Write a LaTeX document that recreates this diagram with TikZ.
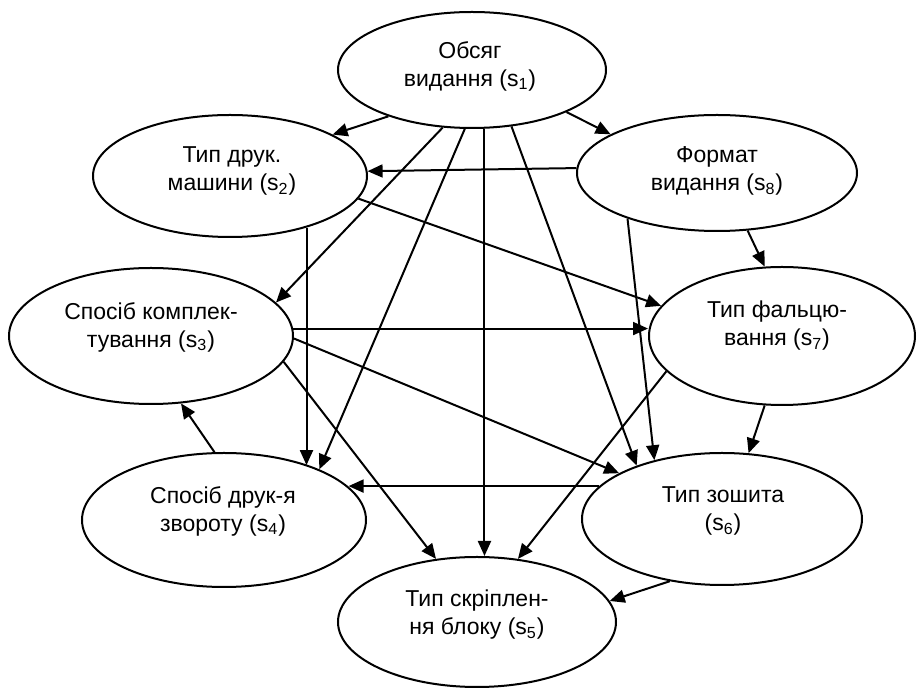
\documentclass[tikz,border=0pt]{standalone}
\usepackage{fontspec}
\setmainfont{Liberation Sans}
\usetikzlibrary{shapes.geometric,arrows.meta}
\begin{document}
\begin{tikzpicture}[x=0.5pt,y=-0.5pt,
  ell/.style={ellipse, draw, line width=1pt, inner sep=0pt},
  lbl/.style={align=center, font=\fontsize{11.5}{14}\selectfont, inner sep=0pt},
  arr/.style={line width=1pt, -{Triangle[length=7.5pt,width=6.5pt]}}]
\useasboundingbox (0,0) rectangle (918,689);
% ellipses
\node[ell, minimum width=134pt, minimum height=58pt] (s1) at (472,70) {};
\node[ell, minimum width=137pt, minimum height=61pt] (s2) at (230,176) {};
\node[ell, minimum width=140pt, minimum height=58pt] (s8) at (717,173) {};
\node[ell, minimum width=142pt, minimum height=68pt] (s3) at (151,336) {};
\node[ell, minimum width=133pt, minimum height=69pt] (s7) at (782,336) {};
\node[ell, minimum width=142pt, minimum height=67pt] (s4) at (224,520) {};
\node[ell, minimum width=140pt, minimum height=66pt] (s6) at (722,519) {};
\node[ell, minimum width=139pt, minimum height=65pt] (s5) at (477,622) {};
% labels
\node[lbl] (t1) at (470,66) {Обсяг\\видання (s\textsubscript{1})};
\node[lbl] (t2) at (232,171) {Тип друк.\\машини (s\textsubscript{2})};
\node[lbl] (t8) at (717,171) {Формат\\видання (s\textsubscript{8})};
\node[lbl] (t3) at (151,327) {Спосіб комплек-\\тування (s\textsubscript{3})};
\node[lbl] (t7) at (777,326) {Тип фальцю-\\вання (s\textsubscript{7})};
\node[lbl] (t4) at (223,511) {Спосіб друк-я\\звороту (s\textsubscript{4})};
\node[lbl] (t6) at (723,511) {Тип зошита\\(s\textsubscript{6})};
\node[lbl] (t5) at (477,615) {Тип скріплен-\\ня блоку (s\textsubscript{5})};
% connectors
\draw[arr] (s1.209) -- (s2.22);
\draw[arr] (s1.336) -- (s8.160);
\draw[arr] (s8.178) -- (s2.2);
\draw[arr] (s1.243) -- (s3.15);
\draw[arr] (s1.263) -- (s4.28);
\draw[arr] (s1.282) -- (s1.282 |- s5.north);
\draw[arr] (s1.305) -- (s6.148);
\draw[arr] (s2.326) -- (s2.326 |- s4.33);
\draw[arr] (s2.350) -- (s7.166);
\draw[arr] (s8.207) -- (s6.139);
\draw[arr] (s8.298) -- (s7.104);
\draw[arr] (s3.3) -- (s3.3 -| s7.west);
\draw[arr] (s3.359) -- (s6.156);
\draw[arr] (s3.349) -- (s5.123);
\draw[arr] (s4.98) -- (s3.294);
\draw[arr] (s6.165) -- (s6.165 -| s4.15);
\draw[arr] (s7.197) -- (s5.57);
\draw[arr] (s7.256) -- (s6.68);
\draw[arr] (s6.230) -- (s5.9);
\end{tikzpicture}
\end{document}
